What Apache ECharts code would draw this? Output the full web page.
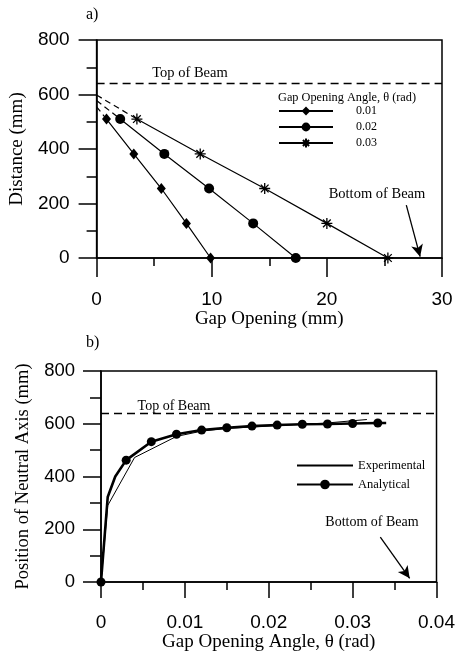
<!DOCTYPE html>
<html>
<head>
<meta charset="utf-8">
<script src="https://cdn.jsdelivr.net/npm/echarts@6/dist/echarts.min.js"></script>
<style>
html,body{margin:0;padding:0;background:#fff;}
#c{width:458px;height:654px;}
</style>
</head>
<body>
<div id="c"></div>
<script>
// ---------- Data: chart a ----------
var depthA = [510, 382, 255, 127, 0];            // Distance (mm)
var gap001 = [0.86, 3.23, 5.62, 7.8, 9.9];       // Gap opening (mm), theta = 0.01
var gap002 = [2.05, 5.88, 9.77, 13.6, 17.3];     // theta = 0.02
var gap003 = [3.5, 9.0, 14.6, 20.0, 25.3];       // theta = 0.03
var neutralA = [555, 578, 598];                  // neutral axis (zero gap) per theta
var seriesNamesA = ['0.01', '0.02', '0.03'];
var topOfBeam = 640;
var xTicksA = ['0', '10', '20', '30'];
var yTicks = ['0', '200', '400', '600', '800'];
var bottomArrowA = [[26.9, 194], [28.1, 5]];

// ---------- Data: chart b ----------
var expTheta = [0, 0.0008, 0.004, 0.009, 0.012, 0.015, 0.018, 0.021, 0.024, 0.027, 0.0317];
var expPos   = [0, 290, 472, 552, 572, 582, 588, 593, 598, 603, 616];
var anaTheta = [0, 0.0008, 0.0017, 0.003, 0.006, 0.009, 0.012, 0.015, 0.018, 0.021, 0.024, 0.027, 0.030, 0.033, 0.034];
var anaPos   = [0, 322, 400, 462, 532, 560, 576, 585, 591, 595, 598, 599, 601, 603, 603];
var anaMarked = [1, 0, 0, 1, 1, 1, 1, 1, 1, 1, 1, 1, 1, 1, 0];
var xTicksB = ['0', '0.01', '0.02', '0.03', '0.04'];
var bottomArrowB = [[0.0333, 170], [0.0368, 14]];

var serif = '"Liberation Serif","Times New Roman",serif';
var sans = '"Liberation Sans",Arial,sans-serif';

function pairs(xs, ys) { return xs.map(function (x, i) { return [x, ys[i]]; }); }

function axisCommon(extra) {
  var o = {
    type: 'value',
    axisLine: { show: true, lineStyle: { color: '#000', width: 1.5 } },
    axisTick: { show: true, inside: false, length: 18, lineStyle: { color: '#000', width: 1.5 } },
    minorTick: { show: true, splitNumber: 2, length: 9, lineStyle: { color: '#000', width: 1.5 } },
    splitLine: { show: false },
    minorSplitLine: { show: false },
    nameLocation: 'middle',
    nameTextStyle: { color: '#000', fontFamily: serif, fontSize: 19 },
    axisLabel: { color: '#000', fontFamily: sans, fontSize: 19 }
  };
  for (var k in extra) o[k] = extra[k];
  return o;
}

var gapsA = [gap001, gap002, gap003];
var symbolsA = ['diamond', 'circle', 'path://M0,-10L0,10M-10,0L10,0M-7,-7L7,7M-7,7L7,-7'];
var symSizeA = [[9, 11], 10, 11];

var series = [];
gapsA.forEach(function (g, i) {
  series.push({
    name: seriesNamesA[i], type: 'line', xAxisIndex: 0, yAxisIndex: 0,
    data: pairs(g, depthA),
    symbol: symbolsA[i], symbolSize: symSizeA[i],
    lineStyle: { color: '#000', width: 1.2 },
    itemStyle: { color: '#000', borderColor: '#000', borderWidth: i === 2 ? 1.3 : 0 },
    z: 3, animation: false
  });
  series.push({
    name: 'ext' + i, type: 'line', xAxisIndex: 0, yAxisIndex: 0,
    data: [[0, neutralA[i]], [g[0], depthA[0]]],
    symbol: 'none',
    lineStyle: { color: '#000', width: 1.2, type: [6, 4] },
    animation: false
  });
});

function refLines(xMax, arrow) {
  return {
    silent: true, animation: false, label: { show: false },
    lineStyle: { color: '#000', width: 1.3, type: 'solid' },
    data: [
      [{ coord: [0, topOfBeam], symbol: 'none', lineStyle: { type: [8, 5] } },
       { coord: [xMax, topOfBeam], symbol: 'none' }],
      [{ coord: arrow[0], symbol: 'none' },
       { coord: arrow[1], symbol: 'arrow', symbolSize: [9, 12] }]
    ]
  };
}

series.push({
  name: 'refA', type: 'line', xAxisIndex: 0, yAxisIndex: 0, data: [],
  markLine: refLines(30, bottomArrowA)
});

// chart b
series.push({
  name: 'Experimental', type: 'line', xAxisIndex: 1, yAxisIndex: 1,
  data: pairs(expTheta, expPos), symbol: 'none',
  lineStyle: { color: '#000', width: 1 }, itemStyle: { color: '#000' },
  animation: false, z: 3
});
series.push({
  name: 'Analytical', type: 'line', xAxisIndex: 1, yAxisIndex: 1,
  data: anaTheta.map(function (t, i) {
    return anaMarked[i] ? { value: [t, anaPos[i]] } : { value: [t, anaPos[i]], symbol: 'none' };
  }),
  symbol: 'circle', symbolSize: 9, showAllSymbol: true,
  lineStyle: { color: '#000', width: 2.6 }, itemStyle: { color: '#000' },
  animation: false, z: 4
});
series.push({
  name: 'refB', type: 'line', xAxisIndex: 1, yAxisIndex: 1, data: [],
  markLine: refLines(0.04, bottomArrowB)
});

var option = {
  animation: false,
  backgroundColor: '#fff',
  grid: [
    { left: 95, top: 40, width: 347, height: 218, show: true, borderColor: '#000', borderWidth: 1.5, backgroundColor: 'transparent' },
    { left: 101, top: 371, width: 337, height: 211, show: true, borderColor: '#000', borderWidth: 1.5, backgroundColor: 'transparent' }
  ],
  xAxis: [
    axisCommon({ gridIndex: 0, min: 0, max: 30, interval: 10, name: 'Gap Opening (mm)', nameGap: 50,
      axisTick: { show: true, length: 19, lineStyle: { color: '#000', width: 1.5 } },
      minorTick: { show: true, splitNumber: 2, length: 8, lineStyle: { color: '#000', width: 1.5 } },
      axisLabel: { color: '#000', fontFamily: sans, fontSize: 19, margin: 32,
        formatter: function (v) { return xTicksA[Math.round(v / 10)]; } } }),
    axisCommon({ gridIndex: 1, min: 0, max: 0.04, interval: 0.01, name: 'Gap Opening Angle, θ (rad)', nameGap: 51,
      axisTick: { show: true, length: 16, lineStyle: { color: '#000', width: 1.5 } },
      minorTick: { show: true, splitNumber: 2, length: 8, lineStyle: { color: '#000', width: 1.5 } },
      axisLabel: { color: '#000', fontFamily: sans, fontSize: 19, margin: 31,
        formatter: function (v) { return xTicksB[Math.round(v / 0.01)]; } } })
  ],
  yAxis: [
    axisCommon({ gridIndex: 0, min: 0, max: 800, interval: 200, name: 'Distance (mm)', nameGap: 65,
      minorTick: { show: true, splitNumber: 2, length: 10, lineStyle: { color: '#000', width: 1.5 } },
      axisLabel: { color: '#000', fontFamily: sans, fontSize: 19, margin: 27,
        formatter: function (v) { return yTicks[Math.round(v / 200)]; } } }),
    axisCommon({ gridIndex: 1, min: 0, max: 800, interval: 200, name: 'Position of Neutral Axis (mm)', nameGap: 68,
      nameTextStyle: { color: '#000', fontFamily: serif, fontSize: 18.5 },
      minorTick: { show: true, splitNumber: 2, length: 11, lineStyle: { color: '#000', width: 1.5 } },
      axisLabel: { color: '#000', fontFamily: sans, fontSize: 18.5, margin: 26,
        formatter: function (v) { return yTicks[Math.round(v / 200)]; } } })
  ],
  legend: [
    { data: seriesNamesA, orient: 'vertical', left: 278, top: 105, padding: 0,
      itemWidth: 54, itemHeight: 11, itemGap: 4,
      textStyle: { color: '#000', fontFamily: serif, fontSize: 12, lineHeight: 12, padding: [0, 0, 0, 18] } },
    { data: [{ name: 'Experimental', itemStyle: { opacity: 0 } }, { name: 'Analytical' }],
      orient: 'vertical', left: 296, top: 459, padding: 0,
      itemWidth: 56, itemHeight: 12, itemGap: 6,
      textStyle: { color: '#000', fontFamily: serif, fontSize: 12.5, lineHeight: 13 } }
  ],
  graphic: [
    { type: 'text', left: 86, top: 7, style: { text: 'a)', font: '16px ' + serif, fill: '#000' } },
    { type: 'text', left: 86, top: 335, style: { text: 'b)', font: '16px ' + serif, fill: '#000' } },
    { type: 'text', x: 190, y: 73, style: { text: 'Top of Beam', font: '14.5px ' + serif, fill: '#000', align: 'center', verticalAlign: 'middle', textAlign: 'center', textVerticalAlign: 'middle' } },
    { type: 'text', x: 278, y: 98, style: { text: 'Gap Opening Angle, θ (rad)', font: '12.3px ' + serif, fill: '#000', align: 'left', verticalAlign: 'middle', textAlign: 'left', textVerticalAlign: 'middle' } },
    { type: 'text', x: 377, y: 194, style: { text: 'Bottom of Beam', font: '14.5px ' + serif, fill: '#000', align: 'center', verticalAlign: 'middle', textAlign: 'center', textVerticalAlign: 'middle' } },
    { type: 'text', x: 174, y: 406, style: { text: 'Top of Beam', font: '14px ' + serif, fill: '#000', align: 'center', verticalAlign: 'middle', textAlign: 'center', textVerticalAlign: 'middle' } },
    { type: 'text', x: 372, y: 522, style: { text: 'Bottom of Beam', font: '14px ' + serif, fill: '#000', align: 'center', verticalAlign: 'middle', textAlign: 'center', textVerticalAlign: 'middle' } }
  ],
  series: series
};

var chart = echarts.init(document.getElementById('c'), null, { renderer: 'canvas' });
chart.setOption(option);
</script>
</body>
</html>
